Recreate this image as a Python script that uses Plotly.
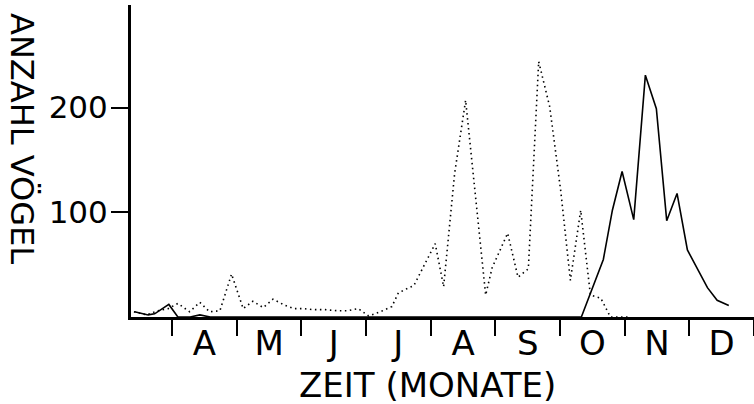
import plotly.graph_objects as go

# Month positions: 4.0 = 1 April boundary, 13.0 = end of December
month_bounds = [4, 5, 6, 7, 8, 9, 10, 11, 12, 13]
month_centers = [4.5, 5.5, 6.5, 7.5, 8.5, 9.5, 10.5, 11.5, 12.5]
month_labels = ["A", "M", "J", "J", "A", "S", "O", "N", "D"]

y_ticks = [100, 200]

# dotted series (x in months, y = number of birds)
dotted_x = [3.41, 3.61, 3.78, 3.94, 4.09, 4.27, 4.43, 4.58, 4.74, 4.92,
            5.10, 5.25, 5.41, 5.56, 5.75, 5.88, 6.03, 6.19, 6.37, 6.55,
            6.71, 6.88, 7.04, 7.22, 7.40, 7.50, 7.63, 7.74, 7.92, 8.07,
            8.20, 8.37, 8.54, 8.85, 8.95, 9.19, 9.35, 9.51, 9.67, 9.84,
            10.01, 10.16, 10.32, 10.47, 10.63, 10.78, 11.06]
dotted_y = [5, 2, 6, 8, 13, 5, 14, 5, 6, 41,
            8, 15, 9, 17, 11, 8, 8, 7, 7, 6,
            6, 8, 1, 5, 10, 23, 27, 30, 52, 70,
            29, 137, 207, 21, 47, 80, 38, 46, 244, 201,
            121, 35, 102, 21, 18, 0, 0]

# solid series
solid_x = [3.42, 3.63, 3.73, 3.95, 4.09, 4.28, 4.43, 4.59, 10.33, 10.67,
           10.81, 10.96, 11.14, 11.32, 11.49, 11.65, 11.81, 11.97, 12.28,
           12.43, 12.61]
solid_y = [5, 2, 3, 12, 0, 0, 2, 0, 0, 55,
           102, 139, 93, 231, 199, 92, 118, 64, 28,
           16, 11]

FONT = "DejaVu Sans"

fig = go.Figure()
fig.add_trace(go.Scatter(x=dotted_x, y=dotted_y, mode="lines",
                         line=dict(color="black", width=1.6, dash="1.5px,3.5px"),
                         showlegend=False, hoverinfo="skip"))
fig.add_trace(go.Scatter(x=solid_x, y=solid_y, mode="lines",
                         line=dict(color="black", width=1.6),
                         showlegend=False, hoverinfo="skip"))
# empty trace to attach the boundary-tick axis
fig.add_trace(go.Scatter(x=[], y=[], xaxis="x2", showlegend=False,
                         hoverinfo="skip"))

xr = [3.365, 13.0]
fig.update_layout(
    width=754, height=404,
    margin=dict(l=131, r=0, t=5, b=87, autoexpand=False),
    paper_bgcolor="white", plot_bgcolor="white",
    font=dict(family=FONT, color="black"),
    hovermode=False,
    xaxis=dict(range=xr, tickmode="array", tickvals=month_centers,
               ticktext=month_labels, ticks="", automargin=False,
               ticklabelstandoff=-6,
               tickfont=dict(size=34, family=FONT),
               showline=True, linecolor="black", linewidth=3,
               showgrid=False, zeroline=False),
    xaxis2=dict(range=xr, overlaying="x", anchor="y", side="bottom",
                tickmode="array", tickvals=month_bounds, showticklabels=False,
                ticks="outside", ticklen=18, tickwidth=2, tickcolor="black",
                automargin=False,
                showline=False, showgrid=False, zeroline=False),
    yaxis=dict(range=[0, 298], tickmode="array", tickvals=y_ticks,
               ticktext=[str(v) for v in y_ticks], ticks="outside",
               ticklen=17, tickwidth=2, tickcolor="black", automargin=False,
               ticklabelstandoff=-3,
               tickfont=dict(size=31, family=FONT),
               showline=True, linecolor="black", linewidth=3,
               showgrid=False, zeroline=False),
    annotations=[
        dict(text="ZEIT (MONATE)", xref="paper", yref="paper",
             x=(427 - 131) / 623, y=-(384 - 316) / 312, xanchor="center",
             yanchor="middle", showarrow=False,
             font=dict(size=34, family=FONT, color="black")),
        dict(text="ANZAHL VÖGEL", xref="paper", yref="paper",
             x=-(131 - 22) / 623, y=(316 - 137) / 312, xanchor="center",
             yanchor="middle", showarrow=False, textangle=90,
             font=dict(size=32, family=FONT, color="black")),
    ],
)

fig.write_html("out.html",
               config={"displayModeBar": False, "staticPlot": True},
               post_script="document.body.style.margin='0';"
                           "document.body.style.overflow='hidden';")
